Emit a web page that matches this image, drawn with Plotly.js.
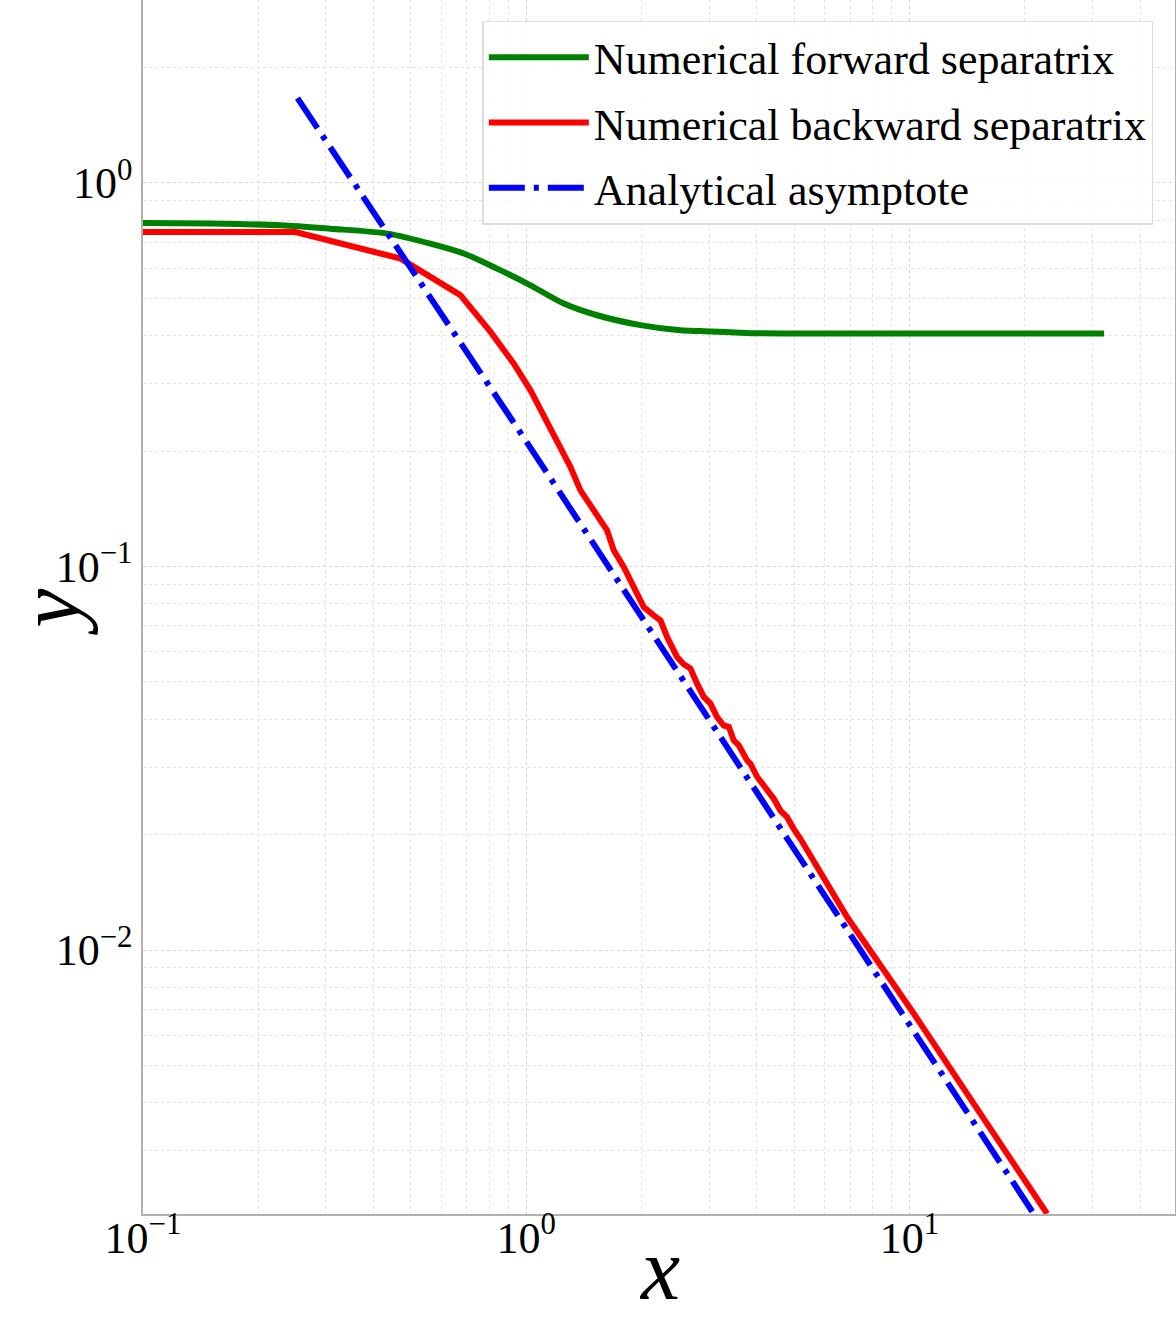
<!DOCTYPE html>
<html>
<head>
<meta charset="utf-8">
<script src="https://cdn.plot.ly/plotly-3.0.1.min.js"></script>
<style>html,body{margin:0;padding:0;background:#fff;}</style>
</head>
<body>
<div id="chart" style="width:1176px;height:1323px;"></div>
<script>
// ---- data ----
const seriesNames = ["Numerical forward separatrix", "Numerical backward separatrix", "Analytical asymptote"];
const axisTitles = ["x", "y"];

const forwardX = [0.1, 0.15, 0.229, 0.308, 0.434, 0.562, 0.687, 0.839, 1.026, 1.253, 1.531, 1.986, 2.525, 2.84, 3.85, 6.0, 10.0, 20.0, 32.2];
const forwardY = [0.787, 0.784, 0.776, 0.760, 0.738, 0.695, 0.655, 0.598, 0.541, 0.485, 0.452, 0.426, 0.413, 0.411, 0.406, 0.405, 0.405, 0.405, 0.405];

const backwardX = [0.1, 0.25, 0.470, 0.673, 0.807, 0.928, 1.026, 1.2036, 1.3044, 1.3849, 1.4711, 1.5617, 1.6255, 1.692, 1.7968, 1.9083, 2.0257, 2.1509, 2.2395, 2.3312, 2.4752, 2.5763, 2.6819, 2.7915, 2.9055, 3.0245, 3.1481, 3.2768, 3.3768, 3.48, 3.5861, 3.77, 3.8462, 4.0033, 4.2502, 4.4241, 4.6049, 4.793, 4.9887, 5.1923, 6.874, 10.26, 15.31, 22.86];
const backwardY = [0.745, 0.745, 0.635, 0.510, 0.409, 0.338, 0.288, 0.2134, 0.1817, 0.1580, 0.1444, 0.1333, 0.1243, 0.1102, 0.0997, 0.0884, 0.0784, 0.0746, 0.0724, 0.0655, 0.0581, 0.0556, 0.0542, 0.0495, 0.0457, 0.0439, 0.0405, 0.0385, 0.0382, 0.0352, 0.0342, 0.0312, 0.0306, 0.0283, 0.0261, 0.0248, 0.0231, 0.0222, 0.0207, 0.0195, 0.01219, 0.00683, 0.003744, 0.002054];

const asymptoteX = [0.253, 0.9955, 21.09];
const asymptoteY = [1.664, 0.2134, 0.002054];

const xTickVals = [0.1, 1, 10];
const xTickText = ["10<sup>\u22121</sup>", "10<sup>0</sup>", "10<sup>1</sup>"];
const yTickVals = [0.01, 0.1, 1];
const yTickText = ["10<sup>\u22122</sup>", "10<sup>\u22121</sup>", "10<sup>0</sup>"];

// ---- styling ----
const FONT = "Liberation Serif";
function minorVals(lo, hi) {
  const out = [];
  for (let k = lo; k <= hi; k++) for (let m = 2; m <= 9; m++) out.push(m * Math.pow(10, k));
  return out;
}
const gridStyle = {showgrid: true, gridcolor: "#d6d6d6", griddash: "dot", gridwidth: 1.4};

const traces = [
  {x: forwardX, y: forwardY, name: seriesNames[0], legendgroup: "a", mode: "lines",
   line: {color: "#008000", width: 6, shape: "spline", smoothing: 0.8}},
  {x: backwardX, y: backwardY, name: seriesNames[1], legendgroup: "b", mode: "lines",
   line: {color: "#ff0000", width: 6}},
  {x: asymptoteX, y: asymptoteY, name: seriesNames[2], legendgroup: "c", mode: "lines",
   line: {color: "#0000ff", width: 6, dash: "36px,9px,5px,9px"}}
];

function axisBase(minor) {
  return Object.assign({
    type: "log",
    tickmode: "array",
    ticks: "",
    showline: true, mirror: true, linecolor: "#b0b0b0", linewidth: 1.5,
    zeroline: false,
    automargin: false,
    tickfont: {family: FONT, size: 44, color: "#000"},
    minor: Object.assign({tickmode: "array", tickvals: minor, ticks: ""}, gridStyle, {gridcolor: "#e2e2e2"})
  }, gridStyle);
}

const xaxis = Object.assign(axisBase(minorVals(-2, 2)), {
  range: [-1, Math.log10(49.3)],
  tickvals: xTickVals, ticktext: xTickText,
  ticklabelstandoff: -16
});
const yaxis = Object.assign(axisBase(minorVals(-3, 1)), {
  range: [Math.log10(0.00205), Math.log10(3.0)],
  tickvals: yTickVals, ticktext: yTickText
});

const titleFont = {family: FONT, size: 88, color: "#000"};
const layout = {
  width: 1176, height: 1323,
  margin: {l: 143, r: 1, t: 0, b: 109, pad: 0},
  paper_bgcolor: "#fff", plot_bgcolor: "#fff",
  font: {family: FONT, color: "#000"},
  xaxis: xaxis, yaxis: yaxis,
  showlegend: true,
  legend: {
    x: 0.979, y: 0.983, xanchor: "right", yanchor: "top",
    font: {family: FONT, size: 44, color: "#000"},
    bgcolor: "rgba(255,255,255,0.85)", bordercolor: "#dddddd", borderwidth: 1.5,
    tracegroupgap: 5, traceorder: "grouped", itemwidth: 100
  },
  annotations: [
    {text: "<i>" + axisTitles[0] + "</i>", xref: "paper", yref: "paper", x: 0.5, y: -0.0461,
     xanchor: "center", yanchor: "middle", showarrow: false, font: titleFont},
    {text: "<i>" + axisTitles[1] + "</i>", xref: "paper", yref: "paper", x: -0.0901, y: 0.496,
     xanchor: "center", yanchor: "middle", showarrow: false, textangle: -90, font: titleFont}
  ]
};

Plotly.newPlot("chart", traces, layout, {displayModeBar: false});
</script>
</body>
</html>
